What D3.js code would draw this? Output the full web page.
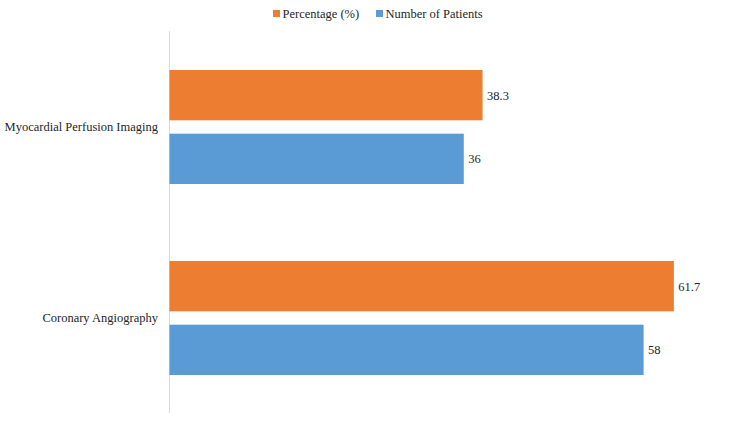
<!DOCTYPE html>
<html>
<head>
<meta charset="utf-8">
<script src="https://cdn.jsdelivr.net/npm/d3@7"></script>
<style>
  body { margin: 0; background: #fff; }
</style>
</head>
<body>
<div id="chart"></div>
<script>
var categories = ["Myocardial Perfusion Imaging", "Coronary Angiography"];
var seriesNames = ["Percentage (%)", "Number of Patients"];
var percentage = [38.3, 61.7];
var patients = [36, 58];
var colors = ["#ED7D31", "#5B9BD5"];

var width = 750, height = 422;
var fs = 12.5;
var svg = d3.select("#chart").append("svg")
    .attr("width", width).attr("height", height)
    .attr("font-family", "'Liberation Serif'");

var x = d3.scaleLinear().domain([0, 70]).range([169.5, 741.7]);
var y0 = d3.scaleBand().domain(categories).range([31, 413]);
var y1 = d3.scaleBand().domain(seriesNames)
    .range([39, 153]).paddingInner(0.21);

// rows: one per category, values by series
var rows = categories.map(function (c, i) {
    return { name: c, values: [percentage[i], patients[i]] };
});

// axis line
svg.append("line")
    .attr("x1", x(0)).attr("x2", x(0))
    .attr("y1", y0.range()[0]).attr("y2", y0.range()[1])
    .attr("stroke", "#d9d9d9").attr("stroke-width", 1);

var g = svg.selectAll(".cat")
    .data(rows)
    .enter().append("g")
    .attr("class", "cat")
    .attr("transform", function (d) { return "translate(0," + y0(d.name) + ")"; });

g.selectAll("rect")
    .data(function (d) { return d.values.map(function (v, j) { return { s: seriesNames[j], v: v, j: j }; }); })
    .enter().append("rect")
    .attr("x", x(0))
    .attr("y", function (d) { return y1(d.s); })
    .attr("width", function (d) { return x(d.v) - x(0); })
    .attr("height", y1.bandwidth())
    .attr("fill", function (d) { return colors[d.j]; });

g.selectAll(".val")
    .data(function (d) { return d.values.map(function (v, j) { return { s: seriesNames[j], v: v }; }); })
    .enter().append("text")
    .attr("class", "val")
    .attr("x", function (d) { return x(d.v) + 4.5; })
    .attr("y", function (d) { return y1(d.s) + y1.bandwidth() / 2; })
    .attr("dy", "0.35em")
    .attr("font-size", fs)
    .attr("fill", "#262626")
    .text(function (d) { return d.v; });

// category labels
g.append("text")
    .attr("x", 158)
    .attr("y", y0.bandwidth() / 2)
    .attr("dy", "0.35em")
    .attr("text-anchor", "end")
    .attr("font-size", fs)
    .attr("fill", "#262626")
    .text(function (d) { return d.name; });

// legend
var legendX = [273, 376];
var legend = svg.selectAll(".leg")
    .data(seriesNames)
    .enter().append("g")
    .attr("class", "leg")
    .attr("transform", function (d, i) { return "translate(" + legendX[i] + ",14)"; });
legend.append("rect")
    .attr("x", 0).attr("y", -4)
    .attr("width", 7).attr("height", 7)
    .attr("fill", function (d, i) { return colors[i]; });
legend.append("text")
    .attr("x", 9.5).attr("y", 0)
    .attr("dy", "0.35em")
    .attr("font-size", fs)
    .attr("fill", "#262626")
    .text(function (d) { return d; });
</script>
</body>
</html>
